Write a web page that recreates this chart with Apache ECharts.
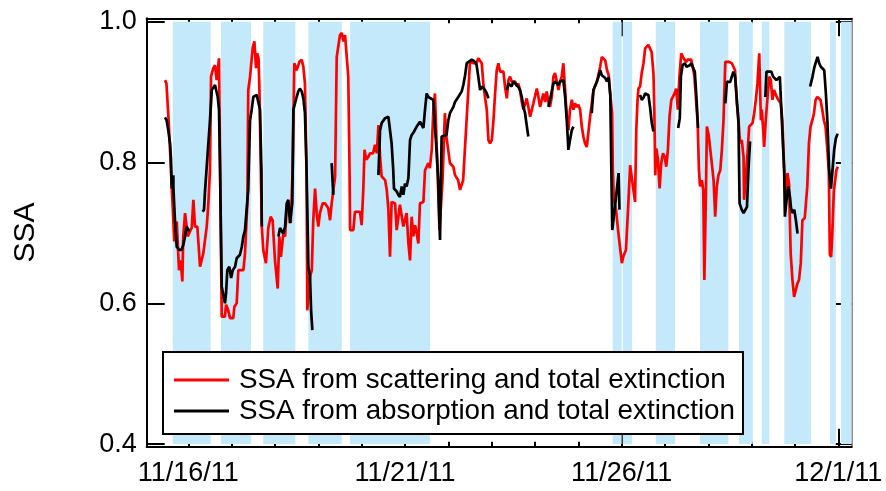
<!DOCTYPE html>
<html>
<head>
<meta charset="utf-8">
<script src="https://cdn.jsdelivr.net/npm/echarts@6/dist/echarts.min.js"></script>
<style>
  html, body { margin: 0; background: #fff; }
  #chart { width: 886px; height: 491px; }
</style>
</head>
<body>
<div id="chart"></div>
<script>
// hours since 11/16/11 00:00, SSA
var redPoints = [[-12.9,.917],[-12.1,.912],[-10.9,.860],[-9.6,.789],[-7.75,.688],[-6.4,.716],[-5.15,.647],[-4.2,.661],[-3.3,.631],[-2.8,.695],[-1.8,.728],[-0.9,.730],[-0.3,.695],[0.9,.702],[1.9,.707],[2.8,.747],[3.7,.709],[5.0,.709],[6.5,.652],[7.4,.652],[8.3,.671],[10.2,.709],[11.1,.742],[12.0,.789],[12.6,.922],[13.8,.934],[14.8,.938],[15.7,.917],[17.0,.948],[17.8,.746],[18.5,.581],[20.3,.581],[20.9,.598],[22.0,.591],[23.1,.579],[24.9,.579],[25.5,.595],[26.8,.600],[27.7,.647],[30.5,.647],[31.4,.671],[32.7,.742],[33.2,.903],[34.2,.922],[35.7,.964],[36.6,.972],[37.5,.934],[38.2,.955],[38.9,.948],[39.4,.903],[40.7,.709],[41.5,.676],[43.0,.657],[44.3,.707],[45.6,.723],[46.7,.718],[48.0,.661],[49.5,.621],[50.4,.695],[51.3,.666],[52.6,.699],[53.6,.695],[54.5,.735],[55.8,.742],[56.7,.714],[57.8,.789],[58.7,.941],[60.0,.931],[61.5,.943],[62.8,.946],[63.7,.936],[64.6,.912],[65.5,.789],[65.9,.590],[66.9,.590],[67.4,.638],[68.4,.647],[69.2,.718],[70.2,.763],[71.1,.728],[72.0,.709],[72.9,.728],[74.4,.742],[75.7,.742],[77.5,.735],[78.5,.718],[79.4,.742],[80.3,.742],[81.3,.780],[82.2,.950],[84.0,.981],[85.0,.984],[85.9,.972],[86.8,.981],[87.7,.979],[88.6,.922],[89.3,.789],[89.6,.704],[91.4,.704],[92.3,.730],[95.1,.730],[96.0,.711],[96.9,.761],[97.6,.818],[98.5,.804],[99.7,.808],[100.6,.813],[102.3,.813],[103.4,.825],[104.4,.813],[105.3,.853],[106.2,.808],[107.1,.780],[109.0,.775],[109.9,.761],[110.8,.733],[111.7,.666],[112.6,.744],[114.5,.742],[115.4,.704],[116.3,.704],[117.2,.740],[119.1,.709],[120.9,.728],[121.9,.685],[122.8,.661],[123.7,.723],[124.6,.695],[125.6,.711],[126.5,.699],[127.4,.685],[128.3,.742],[130.2,.744],[131.1,.789],[132.0,.794],[132.9,.799],[133.8,.792],[134.8,.818],[135.7,.875],[136.6,.898],[137.6,.896],[139.1,.704],[140.8,.775],[142.1,.870],[143.0,.836],[144.9,.799],[146.8,.794],[147.7,.782],[149.4,.775],[150.5,.761],[152.2,.775],[153.8,.846],[156.0,.943],[157.9,.941],[159.7,.941],[160.6,.948],[161.6,.950],[162.5,.941],[163.4,.912],[164.3,.893],[165.3,.875],[166.2,.832],[167.1,.827],[168.1,.832],[169.0,.860],[169.9,.898],[170.8,.931],[171.7,.941],[172.7,.929],[173.6,.931],[174.5,.929],[175.4,.908],[176.4,.891],[177.3,.917],[178.2,.922],[179.1,.915],[181.0,.915],[181.9,.908],[182.8,.912],[183.7,.903],[184.7,.886],[185.6,.875],[187.4,.891],[188.3,.879],[189.3,.865],[191.1,.884],[193.0,.905],[193.9,.893],[194.8,.879],[196.6,.898],[197.6,.886],[198.5,.901],[199.4,.886],[200.3,.879],[201.3,.893],[202.2,.922],[203.1,.927],[204.1,.915],[205.0,.903],[205.9,.915],[206.8,.922],[207.7,.941],[208.7,.903],[209.6,.865],[210.5,.846],[211.4,.875],[212.4,.889],[213.3,.875],[214.2,.884],[215.1,.879],[216.0,.882],[217.0,.875],[217.9,.851],[218.8,.837],[219.7,.827],[220.7,.822],[222.6,.867],[224.4,.903],[226.3,.915],[228.1,.936],[229.0,.950],[229.9,.948],[230.9,.945],[231.9,.931],[232.8,.924],[233.7,.896],[234.7,.870],[235.1,.789],[235.7,.747],[236.9,.732],[238.3,.697],[240.1,.657],[240.9,.666],[242.4,.676],[243.7,.742],[244.7,.796],[246.5,.761],[247.4,.744],[248.1,.846],[248.8,.889],[249.3,.905],[250.2,.908],[251.1,.927],[252.1,.941],[253.0,.962],[254.8,.967],[255.7,.967],[256.6,.957],[257.6,.927],[258.1,.875],[258.6,.782],[259.2,.820],[260.1,.804],[261.0,.763],[261.9,.799],[262.9,.813],[263.8,.808],[264.7,.794],[265.6,.818],[266.5,.865],[267.5,.889],[269.3,.898],[270.2,.905],[271.1,.875],[272.0,.922],[273.0,.955],[273.9,.950],[274.8,.946],[275.7,.943],[276.6,.946],[277.5,.948],[278.5,.946],[279.4,.936],[280.3,.922],[281.2,.889],[282.1,.856],[282.8,.789],[283.4,.766],[284.4,.775],[285.2,.761],[285.8,.633],[286.7,.761],[287.2,.851],[288.2,.839],[289.7,.804],[290.9,.775],[291.8,.723],[292.7,.766],[293.6,.782],[294.6,.789],[295.5,.818],[296.4,.860],[297.4,.943],[298.3,.941],[299.2,.943],[301.0,.941],[301.9,.941],[302.8,.931],[303.8,.884],[304.7,.860],[305.6,.827],[306.5,.832],[307.5,.808],[307.8,.747],[309.7,.813],[310.6,.851],[311.5,.853],[312.5,.856],[313.4,.870],[314.3,.889],[315.2,.912],[316.2,.955],[316.7,.955],[317.1,.860],[317.6,.875],[318.4,.846],[318.9,.822],[319.8,.860],[320.8,.893],[321.7,.922],[322.6,.917],[323.5,.889],[324.4,.903],[325.4,.896],[326.3,.891],[327.2,.889],[328.1,.884],[329.0,.860],[330.0,.789],[330.9,.742],[331.8,.785],[332.7,.770],[333.6,.671],[334.6,.633],[335.5,.609],[336.4,.607],[337.3,.628],[338.2,.633],[339.2,.657],[340.1,.718],[341.4,.721],[342.8,.766],[343.7,.827],[344.6,.851],[345.6,.860],[346.5,.870],[347.4,.889],[348.3,.893],[349.2,.893],[350.1,.889],[351.1,.875],[352.0,.860],[352.9,.851],[353.8,.822],[354.7,.789],[355.3,.669],[356.0,.666],[356.6,.695],[357.5,.759],[358.4,.761],[358.9,.789],[359.7,.794]];

// null = gap in the record
var blackPoints = [[-12.9,.864],[-12.0,.860],[-11.1,.846],[-10.1,.827],[-9.6,.804],[-9.2,.763],[-8.3,.782],[-8.2,.761],[-7.4,.718],[-6.4,.680],[-5.0,.676],[-3.7,.676],[-2.8,.683],[-1.8,.695],[-0.9,.709],[0.0,.704],[0.9,.704],null,
[8.0,.730],[8.7,.733],[9.3,.761],[10.2,.794],[11.1,.827],[12.0,.860],[13.0,.903],[13.8,.903],[14.8,.910],[15.7,.910],[16.3,.893],[17.0,.875],[17.6,.789],[18.5,.624],[19.4,.622],[20.3,.600],[20.9,.614],[21.6,.647],[22.7,.652],[23.7,.636],[24.6,.647],[25.9,.652],[26.8,.664],[27.7,.666],[28.6,.669],[29.6,.680],[30.5,.695],[31.4,.704],[32.3,.733],[33.2,.761],[34.2,.860],[35.1,.875],[36.0,.893],[37.9,.896],[38.8,.896],[39.7,.875],[40.5,.789],[40.7,.709],null,
[49.9,.695],[50.8,.707],[51.7,.709],[52.6,.699],[53.6,.709],[54.5,.742],[55.4,.747],[56.3,.714],[57.6,.742],[58.2,.875],[60.0,.893],[60.9,.901],[61.8,.905],[62.8,.901],[63.7,.891],[64.6,.870],[65.5,.789],[66.5,.652],[67.4,.638],[68.0,.590],[68.7,.562],null,
[79.4,.799],[80.3,.754],null,
[105.3,.782],[106.2,.846],[107.1,.856],[109.0,.863],[110.8,.865],[111.7,.867],[112.6,.827],[113.5,.789],[113.9,.763],[115.4,.759],[116.3,.754],[117.2,.751],[118.2,.766],[119.1,.754],[120.0,.770],[120.9,.766],[121.9,.778],[122.8,.832],[123.7,.839],[124.6,.842],[126.5,.851],[128.3,.858],[130.2,.849],[131.1,.875],[132.0,.898],[132.9,.893],[133.8,.893],[135.7,.889],[136.6,.851],[137.6,.813],[138.4,.775],[139.4,.690],[140.3,.837],[141.2,.839],[143.0,.839],[144.0,.860],[144.9,.870],[146.8,.879],[147.7,.886],[149.5,.893],[150.5,.893],[151.4,.901],[152.3,.910],[153.3,.924],[154.2,.941],[155.1,.943],[157.0,.946],[158.8,.943],[159.7,.938],[160.6,.922],[161.6,.903],[162.5,.908],[163.4,.910],[164.3,.903],[165.3,.898],[166.2,.891],null,
[176.4,.903],[177.3,.912],[178.2,.910],[179.1,.908],[180.0,.915],[181.0,.913],[181.9,.910],[182.8,.907],[183.7,.903],[184.7,.893],[185.6,.879],[186.5,.870],[187.4,.853],[188.3,.837],null,
[199.4,.879],[200.3,.889],[201.3,.901],[202.2,.912],[203.1,.915],[204.1,.917],[205.0,.910],[205.9,.915],[206.8,.917],[207.7,.917],[208.7,.893],[209.6,.860],[210.5,.818],[211.4,.832],[212.4,.846],[213.3,.851],null,
[223.4,.870],[224.4,.903],[225.3,.905],[226.3,.915],[227.2,.922],[228.1,.931],[229.0,.924],[229.9,.922],[230.9,.920],[231.8,.915],[232.8,.921],[233.7,.896],[234.3,.789],[234.8,.704],[235.9,.702],[236.5,.742],[237.6,.768],[238.3,.785],[238.8,.733],null,
[250.2,.896],[251.1,.889],[252.1,.892],[253.0,.898],[253.9,.898],[254.8,.896],[255.7,.879],[256.7,.856],[257.6,.844],null,
[271.3,.849],[272.2,.863],[272.8,.922],[273.7,.938],[275.0,.941],[275.9,.936],[276.8,.934],[277.7,.938],[278.6,.941],[279.6,.934],[280.5,.929],[281.4,.893],[282.3,.849],null,
[297.4,.884],[298.3,.915],[299.2,.917],[300.1,.914],[301.0,.922],[301.9,.929],[302.8,.922],[303.8,.889],[304.7,.856],[305.3,.742],[306.5,.733],[307.5,.728],[308.4,.728],[309.4,.737],[310.2,.789],[311.1,.830],null,
[319.6,.893],[320.2,.929],[321.1,.931],[322.9,.929],[323.9,.922],[324.8,.922],[325.7,.917],[326.6,.917],[327.6,.922],[330.0,.789],[330.4,.723],[331.3,.747],[332.3,.766],[333.2,.751],[333.8,.735],[334.7,.728],[335.6,.733],[336.5,.718],[337.4,.699],null,
[344.4,.908],[345.7,.922],[346.6,.934],[347.6,.943],[348.5,.950],[349.4,.941],[350.3,.936],[351.3,.934],[352.2,.931],[353.1,.898],[354.0,.856],[354.9,.789],[355.9,.763],[356.8,.761],[357.7,.818],[358.6,.834],[359.6,.841]];

// shaded periods (hours since 11/16/11)
var bandStart = [-8.6, 18.1, 41.5, 66.5, 89.6, 235.0, 240.6, 258.9, 283.4, 305.0, 317.6, 330.1, 355.4, 361.4];
var bandEnd   = [12.4, 34.7, 59.3, 85.0, 133.9, 240.0, 245.8, 269.6, 299.1, 312.6, 321.8, 344.9, 358.6, 367.4];

var dayTicks = [0, 24, 48, 72, 96, 120, 144, 168, 192, 216, 240, 264, 288, 312, 336, 360];
var dateTicks = [0, 120, 240, 360];
var dateLabels = ['11/16/11', '11/21/11', '11/26/11', '12/1/11'];
var ssaTicks = [0.4, 0.6, 0.8, 1.0];

var names = ['SSA from scattering and total extinction', 'SSA from absorption and total extinction'];
var font = 'Liberation Sans, Arial, Helvetica, sans-serif';

var chart = echarts.init(document.getElementById('chart'));

var bands = bandStart.map(function (s, i) {
  return [{ xAxis: s, yAxis: 1.0 }, { xAxis: bandEnd[i], yAxis: 0.4 }];
});

// x axes: daily short ticks + long ticks every 5 days, bottom and top
function xAx(pos, ticks, len, showLine, showLabel) {
  return {
    type: 'value', position: pos, min: -23.04, max: 367.4,
    splitLine: { show: false },
    axisLine: { show: showLine, onZero: false, lineStyle: { color: '#000', width: 2 } },
    axisTick: { show: true, inside: true, length: len, customValues: ticks, lineStyle: { color: '#000', width: 2 } },
    axisLabel: {
      show: showLabel, customValues: dateTicks, margin: 13,
      fontFamily: font, fontSize: 27, color: '#000',
      formatter: function (v) { return dateLabels[dateTicks.indexOf(Math.round(v))] || ''; }
    }
  };
}

function yAx(pos, lineColor, len, showLabel, width) {
  return {
    type: 'value', position: pos, min: 0.3963, max: 1.0048,
    name: showLabel ? 'SSA' : '', nameLocation: 'middle', nameGap: 106,
    nameTextStyle: { fontFamily: font, fontSize: 30, color: '#000' },
    splitLine: { show: false },
    axisLine: { show: true, onZero: false, lineStyle: { color: lineColor, width: width } },
    axisTick: { show: true, inside: true, length: len, customValues: ssaTicks, lineStyle: { color: '#000', width: 2 } },
    axisLabel: {
      show: showLabel, customValues: ssaTicks, margin: 10,
      fontFamily: font, fontSize: 27, color: '#000',
      formatter: function (v) { return v.toFixed(1); }
    }
  };
}

var option = {
  animation: false,
  backgroundColor: '#fff',
  grid: { left: 146.7, right: 34.3, top: 18.3, bottom: 44.3 },
  xAxis: [
    xAx('bottom', dayTicks, 5, true, false),
    xAx('bottom', dateTicks, 18, false, true),
    xAx('top', dayTicks, 5, true, false),
    xAx('top', dateTicks, 18, false, false)
  ],
  yAxis: [
    yAx('left', '#000', 18, true, 2),
    yAx('right', '#666', 16, false, 1.5)
  ],
  legend: {
    data: names,
    orient: 'vertical',
    left: 163, top: 352,
    backgroundColor: '#fff',
    borderColor: '#000', borderWidth: 2,
    padding: [13, 8, 8, 11],
    itemGap: 1,
    itemWidth: 55, itemHeight: 3,
    icon: 'rect',
    textStyle: { fontFamily: font, fontSize: 27.8, color: '#000', lineHeight: 30, padding: [0, 0, 0, 5] }
  },
  series: [
    {
      type: 'line', data: [], z: 1, silent: true,
      markArea: { silent: true, itemStyle: { color: '#c3e9fb' }, data: bands }
    },
    {
      name: names[0], type: 'line', z: 3, color: '#ff0000',
      showSymbol: false, symbol: 'none',
      lineStyle: { color: '#ff0000', width: 2.7 },
      data: redPoints
    },
    {
      name: names[1], type: 'line', z: 4, color: '#000000',
      showSymbol: false, symbol: 'none',
      lineStyle: { color: '#000', width: 2.7 },
      data: blackPoints.map(function (p) { return p || [null, null]; })
    }
  ]
};

chart.setOption(option);
</script>
</body>
</html>
